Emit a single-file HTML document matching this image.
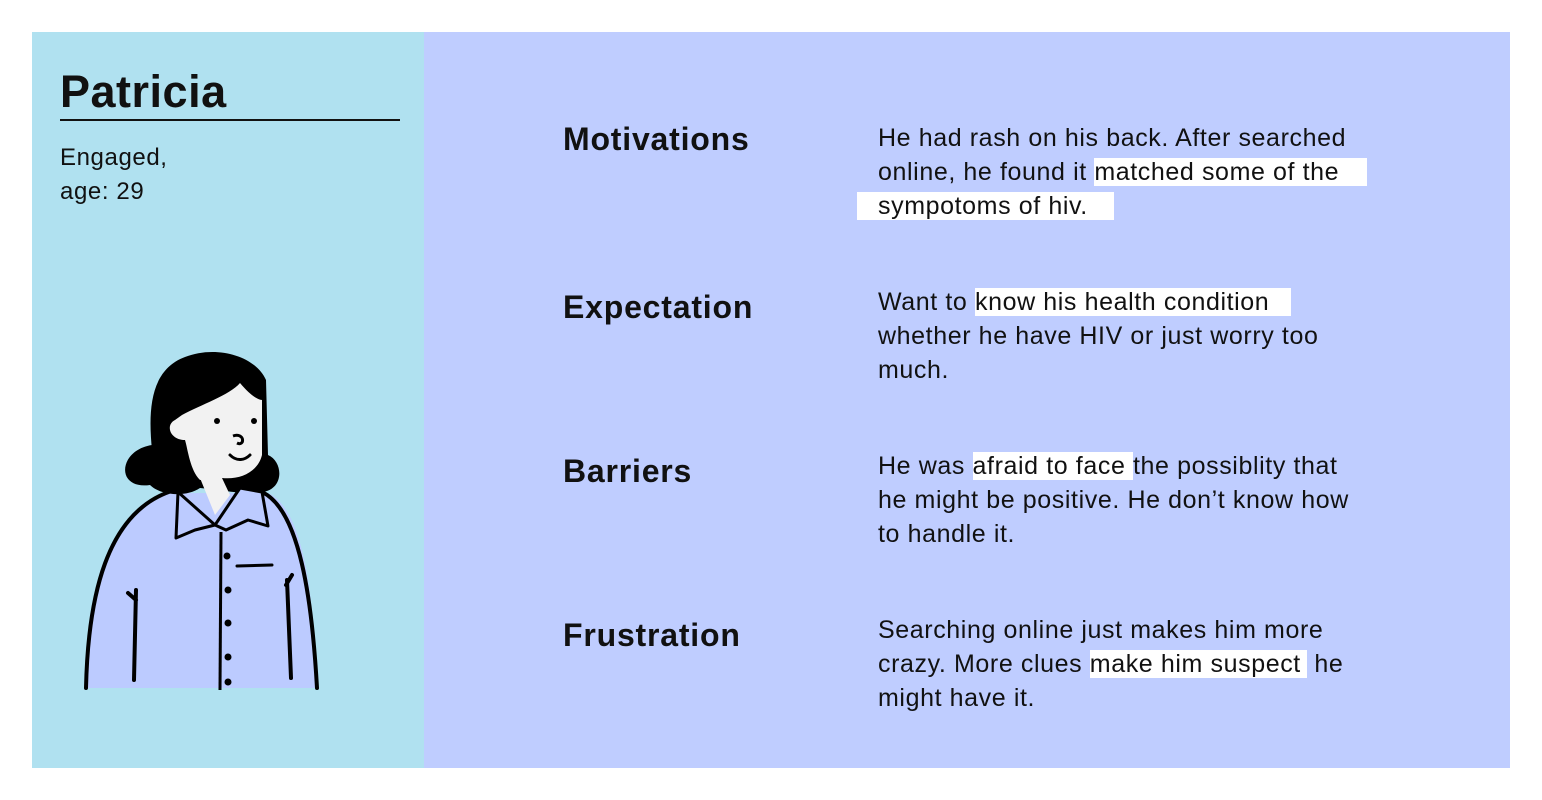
<!DOCTYPE html>
<html><head><meta charset="utf-8"><style>
body{margin:0;width:1542px;height:800px;background:#fff;position:relative;overflow:hidden;font-family:"Liberation Sans",sans-serif;color:#111}
.l{position:absolute;left:32px;top:32px;width:392px;height:736px;background:#b0e1f0}
.r{position:absolute;left:424px;top:32px;width:1086px;height:736px;background:#bfcdff}
.t{position:absolute;white-space:nowrap;font-size:25px;line-height:34px;letter-spacing:0.6px}
.h{position:absolute;white-space:nowrap;font-size:32px;font-weight:bold;line-height:40px;letter-spacing:0.8px}
.hl{background:#fff}
</style></head><body>
<div class="l"></div><div class="r"></div>
<div class="t" style="left:60px;top:62px;font-size:45px;line-height:60px;font-weight:bold;letter-spacing:0.5px">Patricia</div>
<div style="position:absolute;left:60px;top:119px;width:340px;height:2px;background:#111"></div>
<div class="t" style="left:60px;top:141px;font-size:24px">Engaged,</div>
<div class="t" style="left:60px;top:175px;font-size:24px">age: 29</div>

<div class="h" style="left:563px;top:119px">Motivations</div>
<div class="h" style="left:563px;top:287px">Expectation</div>
<div class="h" style="left:563px;top:451px">Barriers</div>
<div class="h" style="left:563px;top:615px">Frustration</div>

<div class="t" style="left:878px;top:121px">He had rash on his back. After searched</div>
<div class="t" style="left:878px;top:155px">online, he found it <span class="hl" style="padding-right:28px">matched some of the</span></div>
<div class="t" style="left:857px;top:189px"><span class="hl" style="padding-left:21px;padding-right:26px">sympotoms of hiv.</span></div>
<div class="t" style="left:878px;top:285px">Want to <span class="hl" style="padding-right:22px">know his health condition</span></div>
<div class="t" style="left:878px;top:319px">whether he have HIV or just worry too</div>
<div class="t" style="left:878px;top:353px">much.</div>
<div class="t" style="left:878px;top:449px">He was <span class="hl">afraid to face </span>the possiblity that</div>
<div class="t" style="left:878px;top:483px">he might be positive. He don’t know how</div>
<div class="t" style="left:878px;top:517px">to handle it.</div>
<div class="t" style="left:878px;top:613px">Searching online just makes him more</div>
<div class="t" style="left:878px;top:647px">crazy. More clues <span class="hl" style="padding-right:6px">make him suspect</span> he</div>
<div class="t" style="left:878px;top:681px">might have it.</div>

<svg style="position:absolute;left:0;top:0" width="1542" height="800" viewBox="0 0 1542 800">
<path d="M86 688 C88 600,105 510,170 493 L268 493 C305 510,313 600,318 688 Z" fill="#bccbff"/>
<path d="M86 688 C88 600,105 510,175 490" fill="none" stroke="#000" stroke-width="4" stroke-linecap="round"/>
<path d="M262 492 C300 510,312 600,317 688" fill="none" stroke="#000" stroke-width="4" stroke-linecap="round"/>
<path d="M152 450 C148 410,150 370,185 357 C215 345,255 355,266 380 L268 455 C284 462,284 490,262 492 C245 495,220 490,200 488 C185 498,160 495,150 485 C115 490,118 450,152 445 Z" fill="#000"/>
<path d="M182 415 C200 405,230 395,240 383 C250 395,258 400,262 400 L262 455 C258 472,240 480,222 478 L200 480 C190 470,188 450,185 440 C170 440,165 425,175 420 Z" fill="#f2f2f2"/>
<path d="M200 478 L222 478 L230 495 L215 515 Z" fill="#f2f2f2"/>
<circle cx="217" cy="421" r="3" fill="#000"/><circle cx="254" cy="421" r="3" fill="#000"/>
<path d="M233 436 C245 432,245 447,237 443" fill="none" stroke="#000" stroke-width="3"/>
<path d="M230 455 C237 462,245 460,250 455" fill="none" stroke="#000" stroke-width="3" stroke-linecap="round"/>
<path d="M176 538 L178 492 L215 525 L240 488 L262 492 L268 526 L248 520 L226 530 L215 525 L195 530 Z" fill="#bccbff" stroke="#000" stroke-width="3" stroke-linejoin="round"/>
<path d="M221 532 L220 690" stroke="#000" stroke-width="3"/>
<path d="M237 566 L272 565" stroke="#000" stroke-width="3" stroke-linecap="round"/>
<path d="M136 590 L134 680 M128 593 L136 600" stroke="#000" stroke-width="4" stroke-linecap="round"/>
<path d="M287 580 L291 678 M292 575 L286 585" stroke="#000" stroke-width="4" stroke-linecap="round"/>
<g fill="#000"><circle cx="227" cy="556" r="3.5"/><circle cx="228" cy="590" r="3.5"/><circle cx="228" cy="623" r="3.5"/><circle cx="228" cy="657" r="3.5"/><circle cx="228" cy="682" r="3.5"/></g>
</svg>
</body></html>
